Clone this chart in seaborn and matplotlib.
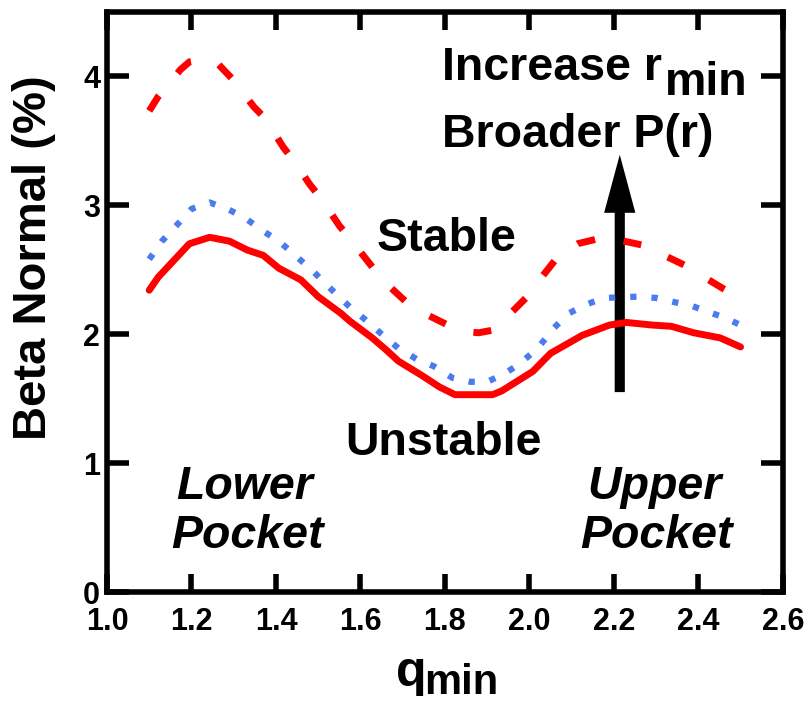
import matplotlib
matplotlib.use("Agg")
import matplotlib.pyplot as plt
import seaborn as sns

# solid red curve
q_solid = [1.10, 1.121, 1.158, 1.195, 1.243, 1.29, 1.333, 1.37, 1.407, 1.459, 1.50,
           1.554, 1.575, 1.628, 1.66, 1.69, 1.745, 1.787, 1.824, 1.913, 1.935, 2.008,
           2.05, 2.125, 2.19, 2.23, 2.29, 2.336, 2.389, 2.452, 2.50]
bn_solid = [2.34, 2.44, 2.57, 2.70, 2.75, 2.72, 2.65, 2.61, 2.51, 2.42, 2.29,
            2.16, 2.10, 1.97, 1.88, 1.79, 1.68, 1.59, 1.53, 1.53, 1.56, 1.71,
            1.85, 1.99, 2.07, 2.09, 2.07, 2.06, 2.01, 1.97, 1.90]

# dotted blue curve
q_dot = [1.10, 1.13, 1.164, 1.20, 1.243, 1.285, 1.327, 1.364, 1.407, 1.449, 1.49,
         1.53, 1.575, 1.612, 1.65, 1.69, 1.736, 1.774, 1.818, 1.86, 1.90, 1.94,
         1.977, 2.02, 2.056, 2.093, 2.135, 2.177, 2.257, 2.30, 2.34, 2.383, 2.425,
         2.46, 2.50]
bn_dot = [2.58, 2.72, 2.84, 2.97, 3.02, 2.97, 2.90, 2.81, 2.72, 2.60, 2.48,
          2.35, 2.21, 2.11, 2.00, 1.89, 1.80, 1.75, 1.66, 1.63, 1.63, 1.69,
          1.77, 1.89, 2.04, 2.16, 2.23, 2.28, 2.29, 2.28, 2.25, 2.22, 2.17,
          2.13, 2.07]

# dashed red curve
q_dash = [1.10, 1.121, 1.174, 1.195, 1.23, 1.264, 1.296, 1.348, 1.375, 1.417, 1.443,
          1.48, 1.507, 1.55, 1.58, 1.628, 1.655, 1.718, 1.745, 1.813, 1.845, 1.88,
          1.913, 1.94, 1.998, 2.024, 2.07, 2.114, 2.177, 2.21, 2.267, 2.30, 2.37,
          2.394, 2.46, 2.494]
bn_dash = [3.73, 3.84, 4.05, 4.11, 4.13, 4.09, 3.98, 3.76, 3.67, 3.45, 3.34,
           3.16, 3.05, 2.84, 2.72, 2.52, 2.41, 2.22, 2.17, 2.06, 2.02, 2.01,
           2.03, 2.11, 2.30, 2.42, 2.61, 2.70, 2.75, 2.73, 2.69, 2.64, 2.53,
           2.48, 2.35, 2.29]

x_ticks = [1.0, 1.2, 1.4, 1.6, 1.8, 2.0, 2.2, 2.4, 2.6]
y_ticks = [0, 1, 2, 3, 4]

sns.set_style("white")
plt.rcParams["font.family"] = ["Liberation Sans", "DejaVu Sans"]
plt.rcParams["font.weight"] = "bold"
plt.rcParams["text.color"] = "black"
plt.rcParams["xtick.color"] = "black"
plt.rcParams["ytick.color"] = "black"

fig = plt.figure(figsize=(8.07, 7.04), dpi=100)
ax = fig.add_axes([0.1326, 0.159, 0.8374, 0.8246])

red = "#ff0000"
blue = "#4a7cf0"
sns.lineplot(x=q_dash, y=bn_dash, ax=ax, color=red, lw=5,
             linestyle=(0, (2.6, 4.2)), dash_capstyle="butt")
sns.lineplot(x=q_dot, y=bn_dot, ax=ax, color=blue, lw=4.5,
             linestyle=(0, (1.0, 2.4)), dash_capstyle="butt")
sns.lineplot(x=q_solid, y=bn_solid, ax=ax, color=red, lw=5)

ax.set_xlim(1.0, 2.6)
ax.set_ylim(0, 4.5)
ax.set_xticks(x_ticks)
ax.set_xticklabels([f"{t:.1f}" for t in x_ticks])
ax.set_yticks(y_ticks)
ax.set_yticklabels([str(t) for t in y_ticks])
ax.set_xlabel("")
ax.set_ylabel("")

for sp in ax.spines.values():
    sp.set_linewidth(4)
    sp.set_color("black")
ax.tick_params(axis="both", direction="in", width=4, color="black",
               labelcolor="black", top=True, right=True, bottom=True, left=True,
               labelsize=22)
ax.tick_params(axis="x", length=13, pad=11)
ax.tick_params(axis="y", length=16, pad=5)

# arrow
ax.arrow(2.214, 1.55, 0, 3.39 - 1.55, width=0.024, head_width=0.074,
         head_length=0.45, length_includes_head=True, color="black", lw=0)

fs = 33.5
ax.text(1.792, 3.97, "Increase r", fontsize=fs, fontweight="bold", va="baseline")
ax.text(2.322, 3.85, "min", fontsize=fs, fontweight="bold", va="baseline")
ax.text(1.792, 3.45, "Broader P(r)", fontsize=fs, fontweight="bold", va="baseline")
ax.text(1.639, 2.646, "Stable", fontsize=fs, fontweight="bold", va="baseline")
ax.text(1.565, 1.06, "Unstable", fontsize=fs, fontweight="bold", va="baseline")
ax.text(1.327, 0.72, "Lower", fontsize=fs, fontweight="bold", style="italic",
        ha="center", va="baseline")
ax.text(1.333, 0.34, "Pocket", fontsize=fs, fontweight="bold", style="italic",
        ha="center", va="baseline")
ax.text(2.296, 0.72, "Upper", fontsize=fs, fontweight="bold", style="italic",
        ha="center", va="baseline")
ax.text(2.30, 0.34, "Pocket", fontsize=fs, fontweight="bold", style="italic",
        ha="center", va="baseline")

# axis labels
fig.text(0.042, 1 - 258 / 704, "Beta Normal (%)", rotation=90, fontsize=34,
         fontweight="bold", ha="center", va="center")
fig.text(396 / 807, 1 - 686 / 704, "q", fontsize=36, fontweight="bold", va="baseline")
fig.text(424 / 807, 1 - 694 / 704, "min", fontsize=30, fontweight="bold", va="baseline")

fig.savefig("out.png", dpi=100)
